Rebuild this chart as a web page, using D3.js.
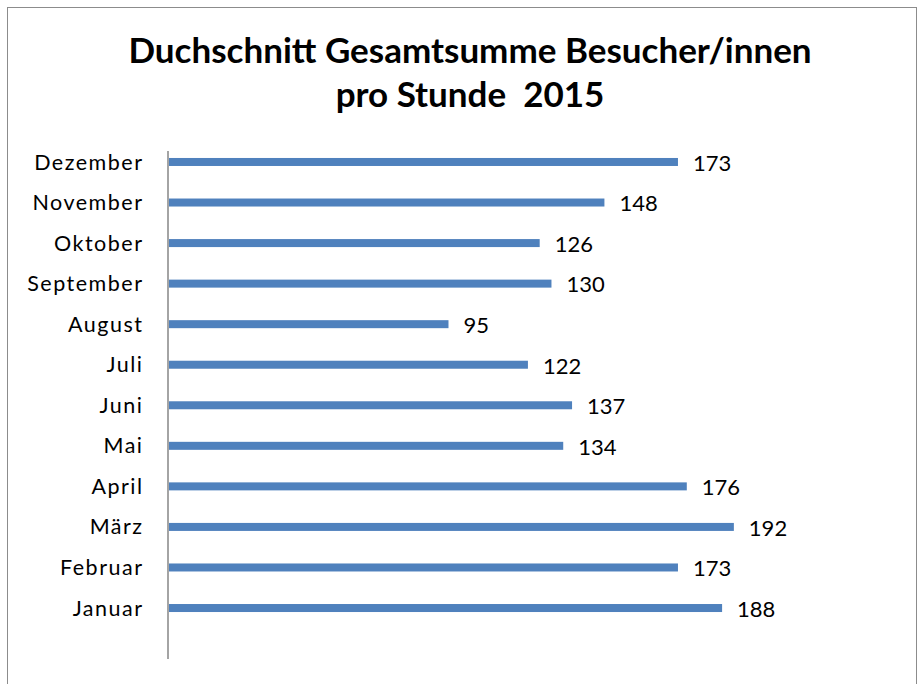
<!DOCTYPE html>
<html>
<head>
<meta charset="utf-8">
<script src="https://cdn.jsdelivr.net/npm/d3@7"></script>
<style>
  html, body { margin: 0; padding: 0; background: #fff; }
  svg { display: block; }
  text { font-family: Lato, "Open Sans", sans-serif; fill: #000; }
</style>
</head>
<body>
<svg id="chart" width="921" height="684"></svg>
<script>
// Monthly averages of total visitors per hour, 2015
const months = ["Januar", "Februar", "März", "April", "Mai", "Juni",
                "Juli", "August", "September", "Oktober", "November", "Dezember"];
const visitorsPerHour = [188, 173, 192, 176, 134, 137, 122, 95, 130, 126, 148, 173];
const titleLines = ["Duchschnitt Gesamtsumme Besucher/innen", "pro Stunde  2015"];

const svg = d3.select("#chart");

// outer chart frame
svg.append("rect")
  .attr("x", 7.5).attr("y", 7.5)
  .attr("width", 909).attr("height", 700)
  .attr("fill", "#fff")
  .attr("stroke", "#8c8c8c")
  .attr("stroke-width", 1);

// title
const title = svg.append("text")
  .attr("text-anchor", "middle")
  .attr("font-weight", "bold")
  .attr("font-size", 35);
title.selectAll("tspan")
  .data(titleLines)
  .join("tspan")
  .attr("x", 470)
  .attr("y", (d, i) => 63 + i * 44)
  .style("white-space", "pre")
  .text(d => d);

const plot = { left: 168, top: 151, bottom: 659 };

const x = d3.scaleLinear()
  .domain([0, 200])
  .range([plot.left, plot.left + 200 * 2.942]);

const y = d3.scaleBand()
  .domain(months)
  .range([628.3, 141.7])
  .paddingInner(0.8)
  .paddingOuter(0.4);

// category axis (labels only, no ticks), loosely spaced lettering
const yAxis = d3.axisLeft(y).tickSize(0);
const gy = svg.append("g")
  .attr("transform", `translate(${plot.left},0)`)
  .call(yAxis);
gy.select(".domain").remove();
gy.selectAll("text")
  .attr("x", -24.5)
  .attr("dy", "0.35em")
  .attr("font-size", 21.5)
  .attr("letter-spacing", 1.5)
  .attr("font-family", "Lato, sans-serif")
  .attr("fill", "#000");

svg.append("line")
  .attr("x1", plot.left).attr("x2", plot.left)
  .attr("y1", plot.top).attr("y2", plot.bottom)
  .attr("stroke", "#868686")
  .attr("stroke-width", 1.5);

// bars
const barH = 8;
svg.append("g")
  .selectAll("rect")
  .data(months)
  .join("rect")
  .attr("x", x(0) + 1)
  .attr("y", (d) => y(d) + y.bandwidth() / 2 - barH / 2)
  .attr("width", (d, i) => x(visitorsPerHour[i]) - x(0))
  .attr("height", barH)
  .attr("fill", "#4f81bd");

// value labels
svg.append("g")
  .selectAll("text")
  .data(months)
  .join("text")
  .attr("x", (d, i) => x(visitorsPerHour[i]) + 16)
  .attr("y", (d) => y(d) + y.bandwidth() / 2)
  .attr("dy", "0.4em")
  .attr("font-size", 22)
  .text((d, i) => visitorsPerHour[i]);
</script>
</body>
</html>
